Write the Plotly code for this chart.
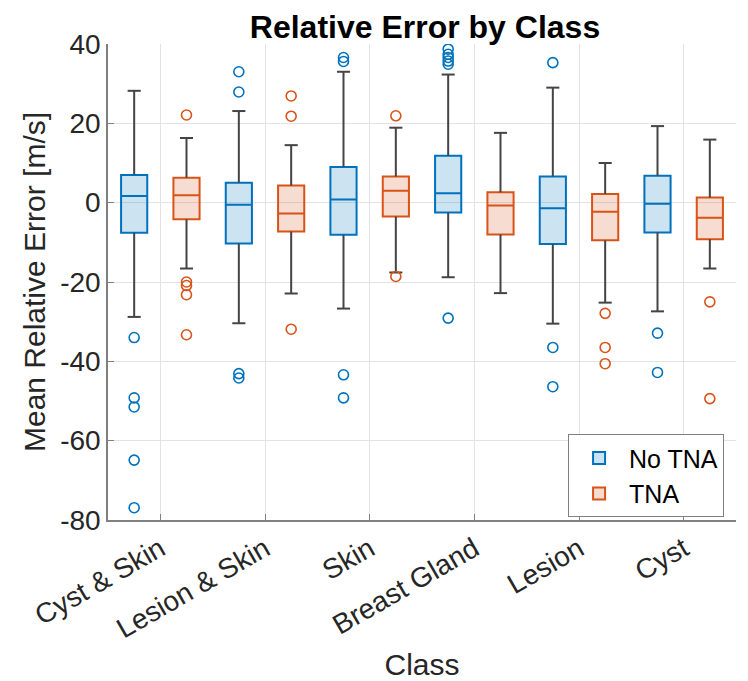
import plotly.graph_objects as go

classes = ["Cyst & Skin", "Lesion & Skin", "Skin", "Breast Gland", "Lesion", "Cyst"]

# No TNA statistics
notna_lower = [-28.8, -30.4, -26.7, -18.8, -30.5, -27.4]
notna_q1 = [-7.6, -10.3, -8.1, -2.5, -10.4, -7.5]
notna_median = [1.7, -0.5, 0.8, 2.4, -1.4, -0.3]
notna_q3 = [7.0, 5.0, 9.0, 11.8, 6.6, 6.8]
notna_upper = [28.2, 23.1, 33.0, 32.3, 29.0, 19.3]
notna_outliers = [
    [-34.0, -49.2, -51.5, -64.9, -76.9],
    [33.0, 27.9, -43.1, -44.2],
    [36.6, 35.6, -43.4, -49.2],
    [38.7, 37.4, 36.6, 35.7, 34.9, -29.1],
    [35.3, -36.5, -46.4],
    [-32.9, -42.8],
]

# TNA statistics
tna_lower = [-16.6, -22.9, -17.6, -22.8, -25.2, -16.6]
tna_q1 = [-4.2, -7.3, -3.5, -8.0, -9.5, -9.2]
tna_median = [1.9, -2.7, 3.0, -0.7, -2.3, -3.8]
tna_q3 = [6.3, 4.3, 6.6, 2.6, 2.2, 1.3]
tna_upper = [16.3, 14.5, 18.9, 17.6, 10.0, 15.9]
tna_outliers = [
    [22.1, -20.0, -20.9, -23.2, -33.3],
    [26.9, 21.8, -31.9],
    [21.9, -18.6],
    [],
    [-27.9, -36.5, -40.6],
    [-25.0, -49.4],
]

y_ticks = [-80, -60, -40, -20, 0, 20, 40]

BLUE = "#0072BD"
BLUE_FILL = "rgba(0,114,189,0.2)"
ORANGE = "#D95319"
ORANGE_FILL = "rgba(217,83,25,0.2)"
WHISK = "#444444"
OFFSET = 0.25
BOXW = 0.25
CAPW = 0.125
FONT = "Liberation Sans, Arial, Helvetica, sans-serif"

fig = go.Figure()


def add_group(name, offset, q1, med, q3, lo, hi, outs, edge, fill):
    pos = [i + offset for i in range(len(classes))]
    # whiskers with caps
    wx, wy = [], []
    for p, a, b, c, d in zip(pos, lo, q1, q3, hi):
        wx += [p, p, None, p, p, None,
               p - CAPW / 2, p + CAPW / 2, None, p - CAPW / 2, p + CAPW / 2, None]
        wy += [a, b, None, c, d, None, a, a, None, d, d, None]
    fig.add_trace(go.Scatter(x=wx, y=wy, mode="lines",
                             line=dict(color=WHISK, width=2),
                             showlegend=False, hoverinfo="skip"))
    fig.add_trace(go.Box(
        name=name, x=pos, q1=q1, median=med, q3=q3,
        lowerfence=q1, upperfence=q3, width=BOXW, whiskerwidth=0,
        fillcolor=fill, line=dict(color=edge, width=2),
        boxpoints=False, hoverinfo="skip"))
    ox, oy = [], []
    for p, vals in zip(pos, outs):
        for v in vals:
            ox.append(p)
            oy.append(v)
    fig.add_trace(go.Scatter(x=ox, y=oy, mode="markers",
                             marker=dict(symbol="circle-open", size=10,
                                         color=edge, line=dict(width=1.6)),
                             showlegend=False, hoverinfo="skip"))


add_group("No TNA", -OFFSET, notna_q1, notna_median, notna_q3,
          notna_lower, notna_upper, notna_outliers, BLUE, BLUE_FILL)
add_group("TNA", OFFSET, tna_q1, tna_median, tna_q3,
          tna_lower, tna_upper, tna_outliers, ORANGE, ORANGE_FILL)

fig.update_layout(
    width=740, height=673,
    margin=dict(l=100, r=12, t=36, b=161),
    paper_bgcolor="white", plot_bgcolor="white",
    boxmode="overlay",
    font=dict(family=FONT, color="#262626"),
    title=dict(text="<b>Relative Error by Class</b>", x=0.5635, xanchor="center",
               y=0.9715, yanchor="middle", yref="container",
               font=dict(size=32, color="black", family=FONT)),
    legend=dict(x=0.981, xanchor="right", y=0.006, yanchor="bottom",
                bgcolor="white", bordercolor="#808080", borderwidth=1,
                font=dict(size=25, color="black", family=FONT),
                tracegroupgap=0, itemwidth=50),
    xaxis=dict(
        range=[-0.5, len(classes) - 0.5],
        tickvals=list(range(len(classes))), ticktext=classes,
        tickangle=-30, tickfont=dict(size=28, color="#262626"),
        showgrid=True, gridcolor="#E3E3E3", gridwidth=1,
        showline=True, linecolor="#808080", linewidth=1.5,
        ticks="inside", ticklen=6, tickcolor="#808080",
        zeroline=False, automargin=False,
        title=dict(text="Class", font=dict(size=30, color="#262626")),
    ),
    yaxis=dict(
        range=[-80, 40],
        tickvals=y_ticks, ticktext=[str(v) for v in y_ticks],
        tickfont=dict(size=28, color="#262626"),
        showgrid=True, gridcolor="#E3E3E3", gridwidth=1,
        showline=True, linecolor="#808080", linewidth=1.5,
        ticks="inside", ticklen=6, tickcolor="#808080",
        zeroline=False, automargin=False,
        title=dict(text="Mean Relative Error [m/s]", font=dict(size=30, color="#262626"),
                   standoff=6),
    ),
)

fig.write_html("out.html")
